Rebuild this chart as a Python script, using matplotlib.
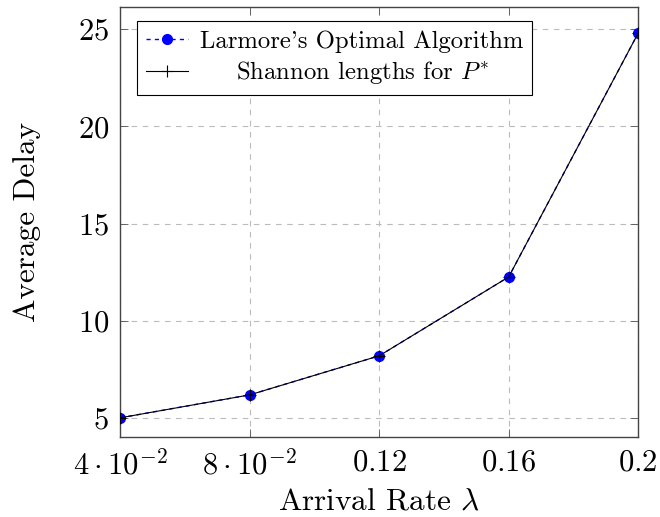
import matplotlib
matplotlib.use("Agg")
from matplotlib import pyplot as plt

plt.rcParams['font.family'] = 'serif'
plt.rcParams['font.serif'] = ['cmr10']
plt.rcParams['mathtext.fontset'] = 'cm'
plt.rcParams['axes.unicode_minus'] = False
plt.rcParams['axes.formatter.use_mathtext'] = True

rates = [0.04, 0.08, 0.12, 0.16, 0.2]
larmore = [5.0, 6.18, 8.19, 12.25, 24.8]
shannon = [5.0, 6.18, 8.19, 12.25, 24.8]

x_ticks = [0.04, 0.08, 0.12, 0.16, 0.2]
x_labels = [r'$4\cdot10^{-2}$', r'$8\cdot10^{-2}$', r'$0.12$', r'$0.16$', r'$0.2$']
y_ticks = [5, 10, 15, 20, 25]
y_labels = [r'$5$', r'$10$', r'$15$', r'$20$', r'$25$']

fig = plt.figure(figsize=(6.6, 5.17), dpi=100)
ax = fig.add_axes([0.182, 0.155, 0.785, 0.831])

ax.plot(rates, larmore, color='blue', linestyle=(0, (3, 3)), linewidth=1.0,
        marker='o', markersize=7, label="Larmore's Optimal Algorithm", zorder=3)
ax.plot(rates, shannon, color='black', linestyle='-', linewidth=0.8,
        marker='+', markersize=8, markeredgewidth=0.8,
        label=r'Shannon lengths for $P^{*}$', zorder=4)

ax.set_xlim(0.04, 0.2)
ax.set_ylim(4.02, 26.13)
ax.set_xticks(x_ticks)
ax.set_xticklabels(x_labels)
ax.set_yticks(y_ticks)
ax.set_yticklabels(y_labels)
ax.tick_params(direction='in', length=6, width=0.6, color='#555555',
               labelsize=22, top=True, right=True)
ax.tick_params(axis='y', pad=8)
ax.tick_params(axis='x', pad=9)

ax.grid(True, color='#bbbbbb', linestyle=(0, (5, 5)), linewidth=0.8)
ax.set_axisbelow(True)
for s in ax.spines.values():
    s.set_color('#444444')
    s.set_linewidth(1.0)

ax.set_xlabel(r'Arrival Rate $\lambda$', fontsize=22.5, labelpad=5)
ax.set_ylabel('Average Delay', fontsize=22.5, labelpad=26)

leg = ax.legend(loc='upper left', bbox_to_anchor=(0.033, 0.967), fontsize=17.8,
                frameon=True, fancybox=False, framealpha=1, edgecolor='black',
                borderpad=0.35, handlelength=1.7, handletextpad=0.5,
                labelspacing=0.28, borderaxespad=0)
leg.get_frame().set_linewidth(0.8)

# centre the legend entries like pgfplots does
renderer = fig.canvas.get_renderer()
texts = leg.get_texts()
widths = [t.get_window_extent(renderer).width for t in texts]
wmax = max(widths)
for t, w in zip(texts, widths):
    t.set_x((wmax - w) / 2)

fig.savefig('out.png', dpi=100)
